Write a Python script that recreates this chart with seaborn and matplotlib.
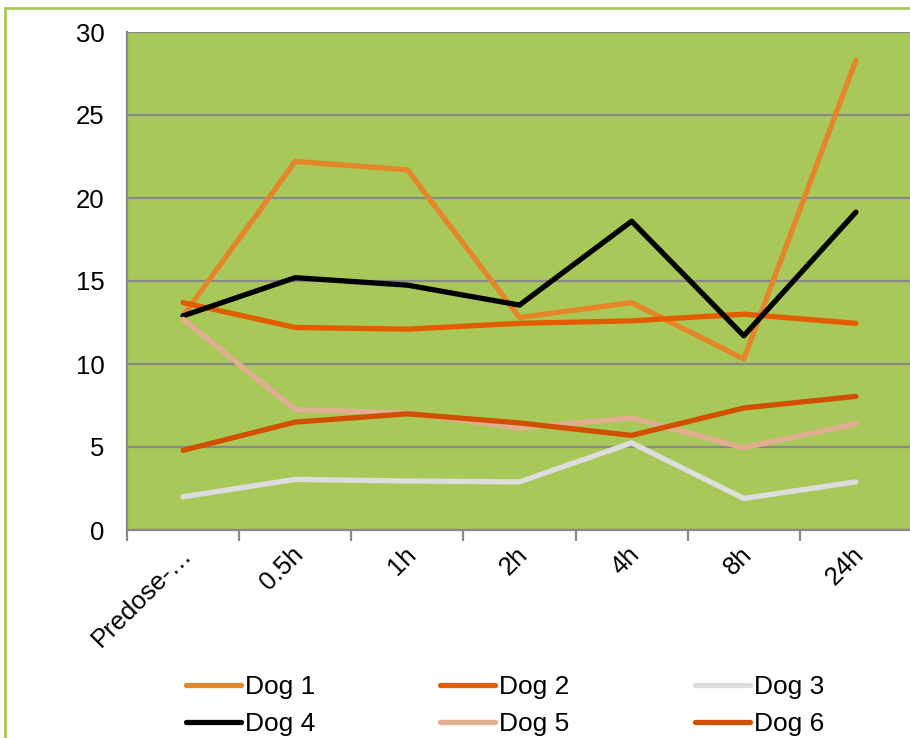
import matplotlib
matplotlib.use("Agg")
import matplotlib.pyplot as plt
from matplotlib.patches import Rectangle
from matplotlib.transforms import ScaledTranslation
import seaborn as sns
import pandas as pd

categories = ["Predose-…", "0.5h", "1h", "2h", "4h", "8h", "24h"]
dog1 = [12.9, 22.2, 21.7, 12.8, 13.7, 10.3, 28.3]
dog2 = [13.7, 12.2, 12.1, 12.45, 12.6, 13.0, 12.45]
dog3 = [2.0, 3.05, 2.95, 2.9, 5.25, 1.9, 2.9]
dog4 = [12.9, 15.2, 14.75, 13.55, 18.6, 11.7, 19.15]
dog5 = [12.7, 7.25, 7.05, 6.15, 6.75, 4.95, 6.4]
dog6 = [4.8, 6.5, 7.0, 6.45, 5.7, 7.35, 8.05]
series_names = ["Dog 1", "Dog 2", "Dog 3", "Dog 4", "Dog 5", "Dog 6"]
series_values = [dog1, dog2, dog3, dog4, dog5, dog6]
colors = ["#E6862A", "#E45C00", "#DDDDDD", "#000000", "#E2AE92", "#D14F00"]
yticks = [0, 5, 10, 15, 20, 25, 30]

rows = []
for name, vals in zip(series_names, series_values):
    for c, v in zip(categories, vals):
        rows.append({"time": c, "value": v, "dog": name})
df = pd.DataFrame(rows)

sns.set_theme(style="white")
plt.rcParams["font.family"] = ["Liberation Sans", "DejaVu Sans"]
plt.rcParams["text.color"] = "black"

W, H = 910, 738
fig = plt.figure(figsize=(W / 100, H / 100), dpi=100)
ax = fig.add_axes([127 / W, 1 - 530 / H, (912 - 127) / W, (530 - 32) / H])
ax.set_facecolor("#A8C95A")

sns.lineplot(data=df, x="time", y="value", hue="dog", palette=colors,
             linewidth=3.8, sort=False, ax=ax, legend=True,
             solid_capstyle="round")

ax.set_xlim(-0.5, 6.5)
ax.set_ylim(0, 30)
ax.set_yticks(yticks)
ax.set_yticklabels([str(t) for t in yticks], fontsize=18.5, color="black")
ax.set_xticks(range(len(categories)))
ax.set_xticks([i - 0.5 for i in range(len(categories) + 1)], minor=True)
ax.set_xlabel("")
ax.set_ylabel("")
ax.grid(axis="y", color="#888888", linewidth=1.6)
ax.set_axisbelow(True)
for s in ["top", "right"]:
    ax.spines[s].set_visible(False)
for s in ["left", "bottom"]:
    ax.spines[s].set_color("#888888")
    ax.spines[s].set_linewidth(1.6)

ax.tick_params(axis="x", which="major", length=0, pad=9)
ax.tick_params(axis="x", which="minor", length=8, width=1.6, color="#888888",
               direction="out", bottom=True)
ax.tick_params(axis="y", length=8, width=1.6, color="#888888",
               direction="out", pad=8)

ax.set_xticklabels(categories, fontsize=18.5, rotation=45, ha="right",
                   rotation_mode="anchor", color="black")
off = ScaledTranslation(-4 / 100, 0, fig.dpi_scale_trans)
for lbl in ax.get_xticklabels():
    lbl.set_transform(lbl.get_transform() + off)

ax.legend_.remove()
handles, labels = ax.get_legend_handles_labels()
for h in handles:
    h.set_linewidth(3.8)
    h.set_solid_capstyle("round")
order = [0, 3, 1, 4, 2, 5]
fig.legend([handles[i] for i in order], [labels[i] for i in order],
           ncol=3, loc="upper left",
           bbox_to_anchor=(186 / W, 1 - 675 / H), bbox_transform=fig.transFigure,
           frameon=False, fontsize=19, borderpad=0, borderaxespad=0,
           handlelength=2.08, handletextpad=0.15, columnspacing=4.75,
           labelspacing=0.49)

fig.patches.append(Rectangle((4.5 / W, -0.1), 1.2, 1 - 8.5 / H + 0.1,
                             transform=fig.transFigure, fill=False,
                             edgecolor="#A8C95A", linewidth=2, clip_on=False))

fig.savefig("out.png", dpi=100)
